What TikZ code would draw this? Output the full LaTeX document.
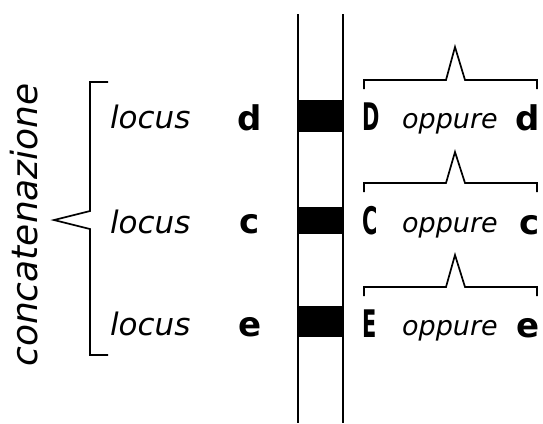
\documentclass[tikz,border=0pt]{standalone}
\usepackage{fontspec}
\setmainfont{DejaVu Sans}
\begin{document}
\begin{tikzpicture}[x=1pt,y=-1pt,line width=2.2pt,
  loc/.style={font=\itshape\fontsize{31}{31}\selectfont,inner sep=0pt,anchor=base west},
  gene/.style={font=\bfseries\fontsize{34}{34}\selectfont,inner sep=0pt,anchor=base},
  capl/.style={font=\bfseries\fontsize{38}{38}\selectfont,inner sep=0pt,anchor=base west,xscale=0.55,transform shape},
  opp/.style={font=\itshape\fontsize{27}{27}\selectfont,inner sep=0pt,anchor=base west},
  band/.style={fill=black,draw=none}]
\useasboundingbox (0,0) rectangle (543,423);
% chromosome
\draw (298,14) -- (298,423);
\draw (343,14) -- (343,423);
\fill[band] (298,100) rectangle (343,132);
\fill[band] (298,207) rectangle (343,234);
\fill[band] (298,306) rectangle (343,337);
% left brace
\draw[line width=1.7pt] (108,82) -- (90,82) -- (90,211) -- (54,220) -- (90,229) -- (90,355) -- (108,355);
\node[font=\itshape\fontsize{36}{36}\selectfont,rotate=90,inner sep=0pt] (conc) at (24,225) {concatenazione};
% locus labels
\node[loc] (l1) at (109,128) {locus};
\node[loc] (l2) at (109,233) {locus};
\node[loc] (l3) at (109,335) {locus};
\node[gene] (g1) at (250,130) {d};
\node[gene] (g2) at (250,233) {c};
\node[gene] (g3) at (250,336) {e};
% right braces
\foreach \y/\t in {80/47,183/152,287/255}{
  \draw[line width=1.7pt] (364,\y+9) -- (364,\y) -- (446,\y) -- (455,\t) -- (465,\y) -- (537,\y) -- (537,\y+9);
}
\node[capl] (A1) at (362,130) {D};
\node[capl] (A2) at (362,234) {C};
\node[capl] (A3) at (362,337) {E};
\node[opp] (o1) at (401,128) {oppure};
\node[opp] (o2) at (401,232) {oppure};
\node[opp] (o3) at (401,335) {oppure};
\node[gene,anchor=base east] (b1) at (541,130) {d};
\node[gene,anchor=base east] (b2) at (541,234) {c};
\node[gene,anchor=base east] (b3) at (541,337) {e};
\end{tikzpicture}
\end{document}
